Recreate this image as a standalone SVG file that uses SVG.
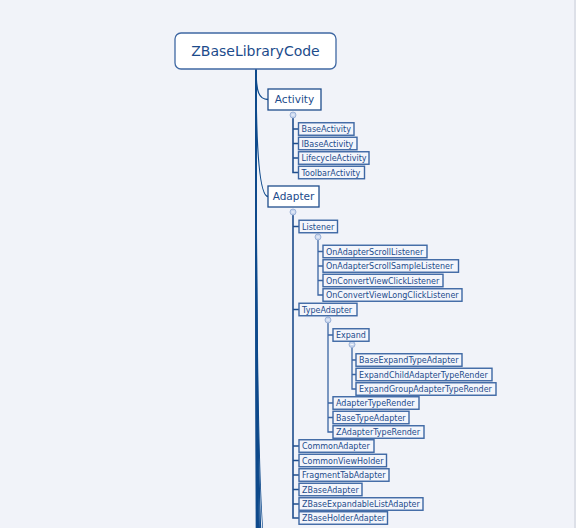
<svg xmlns="http://www.w3.org/2000/svg" width="576" height="528" viewBox="0 0 576 528">
<style>
text{font-family:"DejaVu Sans","Noto Sans",sans-serif;fill:#1c4b8b}
.root rect{fill:#ffffff;stroke:#3f68a3;stroke-width:1.3}
.root text{font-size:14px}
.l1 rect{fill:#ffffff;stroke:#1f4d8c;stroke-width:1.3}
.l1 text{font-size:10.5px}
.l2 rect{fill:#f3f5fb;stroke:#3d67a4;stroke-width:1.4}
.l2 text{font-size:8px}
.trunk path{fill:none;stroke:#0f4a8c;stroke-width:1.3}
.tree{fill:none;stroke:#1f4d8c;stroke-width:1.6}
.tree2{fill:none;stroke:#3a64a2;stroke-width:1.3}
.col{fill:#c9d6ee;stroke:#8fa8d2;stroke-width:0.8}
</style>
<rect width="576" height="528" fill="#f1f3f9"/>
<rect x="574" y="0" width="2" height="528" fill="#dde0e8"/>

<g id="connectors">
  <g class="trunk">
    <path d="M256,69 C256,92 259,99.5 268,99.5"/>
    <path d="M256,69 C256,140 259,196.5 268,196.5"/>
    <path d="M256,69 C256,364 259,560 268,560"/>
    <path d="M256,69 C256,388 259,600 268,600"/>
    <path d="M256,69 C256,420 259,650 268,650"/>
    <path d="M256,69 C256,460 259,720 268,720"/>
    <path d="M256,69 C256,510 259,800 268,800"/>
    <path d="M256,69 C256,570 259,900 268,900"/>
    <path d="M256,69 C256,630 259,1000 268,1000"/>
    <path d="M256,69 C256,700 259,1120 268,1120"/>
    <path d="M256,69 C256,780 259,1250 268,1250"/>
    <path d="M256,69 C256,870 259,1400 268,1400"/>
  </g>
  <!-- Activity children -->
  <path class="tree" d="M293,118 V172.5 H298.5 M293,129 H298.5 M293,143.5 H298.5 M293,158 H298.5"/>
  <!-- Adapter children -->
  <path class="tree" d="M293,215 V518 H299 M293,226.5 H299 M293,309.5 H299 M293,446 H299 M293,460.5 H299 M293,475 H299 M293,489.5 H299 M293,504 H299"/>
  <!-- Listener children -->
  <path class="tree2" d="M318,240 V295 H323 M318,251.5 H323 M318,266 H323 M318,280.5 H323"/>
  <!-- TypeAdapter children -->
  <path class="tree2" d="M328,323 V432 H333 M328,335 H333 M328,403 H333 M328,417.5 H333"/>
  <!-- Expand children -->
  <path class="tree2" d="M352,347.5 V389 H356 M352,360 H356 M352,374.5 H356"/>
  <!-- collapse markers -->
  <circle class="col" cx="293" cy="115" r="3"/>
  <circle class="col" cx="293" cy="212" r="3"/>
  <circle class="col" cx="318" cy="237" r="3"/>
  <circle class="col" cx="328" cy="320" r="3"/>
  <circle class="col" cx="352" cy="344.5" r="3"/>
  <path d="M291.5,115 H294.5 M291.5,212 H294.5 M316.5,237 H319.5 M326.5,320 H329.5 M350.5,344.5 H353.5" stroke="#ffffff" stroke-width="0.8"/>
</g>

<g id="ZBaseLibraryCode" class="root"><rect x="175" y="33" width="161" height="36" rx="6"/><text x="255.5" y="56" text-anchor="middle">ZBaseLibraryCode</text></g>

<g id="Activity" class="l1"><rect x="268" y="89" width="53" height="21"/><text x="294.5" y="103.3" text-anchor="middle">Activity</text></g>
<g id="BaseActivity" class="l2"><rect x="298.5" y="122.75" width="55.5" height="12.5"/><text x="301.5" y="132">BaseActivity</text></g>
<g id="IBaseActivity" class="l2"><rect x="298.5" y="137.25" width="58.5" height="12.5"/><text x="301.5" y="146.5">IBaseActivity</text></g>
<g id="LifecycleActivity" class="l2"><rect x="298.5" y="151.75" width="70.5" height="12.5"/><text x="301.5" y="161">LifecycleActivity</text></g>
<g id="ToolbarActivity" class="l2"><rect x="298.5" y="166.25" width="66" height="12.5"/><text x="301.5" y="175.5">ToolbarActivity</text></g>

<g id="Adapter" class="l1"><rect x="268" y="186" width="51" height="21"/><text x="293.5" y="200.3" text-anchor="middle">Adapter</text></g>
<g id="Listener" class="l2"><rect x="299" y="220.25" width="38.5" height="12.5"/><text x="302" y="229.5">Listener</text></g>
<g id="OnAdapterScrollListener" class="l2"><rect x="323" y="245.25" width="104" height="12.5"/><text x="326" y="254.5">OnAdapterScrollListener</text></g>
<g id="OnAdapterScrollSampleListener" class="l2"><rect x="323" y="259.75" width="135.5" height="12.5"/><text x="326" y="269">OnAdapterScrollSampleListener</text></g>
<g id="OnConvertViewClickListener" class="l2"><rect x="323" y="274.25" width="120" height="12.5"/><text x="326" y="283.5">OnConvertViewClickListener</text></g>
<g id="OnConvertViewLongClickListener" class="l2"><rect x="323" y="288.75" width="139" height="12.5"/><text x="326" y="298">OnConvertViewLongClickListener</text></g>

<g id="TypeAdapter" class="l2"><rect x="299" y="303.25" width="58" height="12.5"/><text x="302" y="312.5">TypeAdapter</text></g>
<g id="Expand" class="l2"><rect x="333" y="328.75" width="36" height="12.5"/><text x="336" y="338">Expand</text></g>
<g id="BaseExpandTypeAdapter" class="l2"><rect x="356" y="353.75" width="106" height="12.5"/><text x="359" y="363">BaseExpandTypeAdapter</text></g>
<g id="ExpandChildAdapterTypeRender" class="l2"><rect x="356" y="368.25" width="136" height="12.5"/><text x="359" y="377.5">ExpandChildAdapterTypeRender</text></g>
<g id="ExpandGroupAdapterTypeRender" class="l2"><rect x="356" y="382.75" width="140" height="12.5"/><text x="359" y="392">ExpandGroupAdapterTypeRender</text></g>
<g id="AdapterTypeRender" class="l2"><rect x="333" y="396.75" width="86" height="12.5"/><text x="336" y="406">AdapterTypeRender</text></g>
<g id="BaseTypeAdapter" class="l2"><rect x="333" y="411.25" width="76" height="12.5"/><text x="336" y="420.5">BaseTypeAdapter</text></g>
<g id="ZAdapterTypeRender" class="l2"><rect x="333" y="425.75" width="91" height="12.5"/><text x="336" y="435">ZAdapterTypeRender</text></g>

<g id="CommonAdapter" class="l2"><rect x="299" y="439.75" width="75" height="12.5"/><text x="302" y="449">CommonAdapter</text></g>
<g id="CommonViewHolder" class="l2"><rect x="299" y="454.25" width="87.5" height="12.5"/><text x="302" y="463.5">CommonViewHolder</text></g>
<g id="FragmentTabAdapter" class="l2"><rect x="299" y="468.75" width="90" height="12.5"/><text x="302" y="478">FragmentTabAdapter</text></g>
<g id="ZBaseAdapter" class="l2"><rect x="299" y="483.25" width="63" height="12.5"/><text x="302" y="492.5">ZBaseAdapter</text></g>
<g id="ZBaseExpandableListAdapter" class="l2"><rect x="299" y="497.75" width="124" height="12.5"/><text x="302" y="507">ZBaseExpandableListAdapter</text></g>
<g id="ZBaseHolderAdapter" class="l2"><rect x="299" y="511.75" width="88.5" height="12.5"/><text x="302" y="521">ZBaseHolderAdapter</text></g>
</svg>
